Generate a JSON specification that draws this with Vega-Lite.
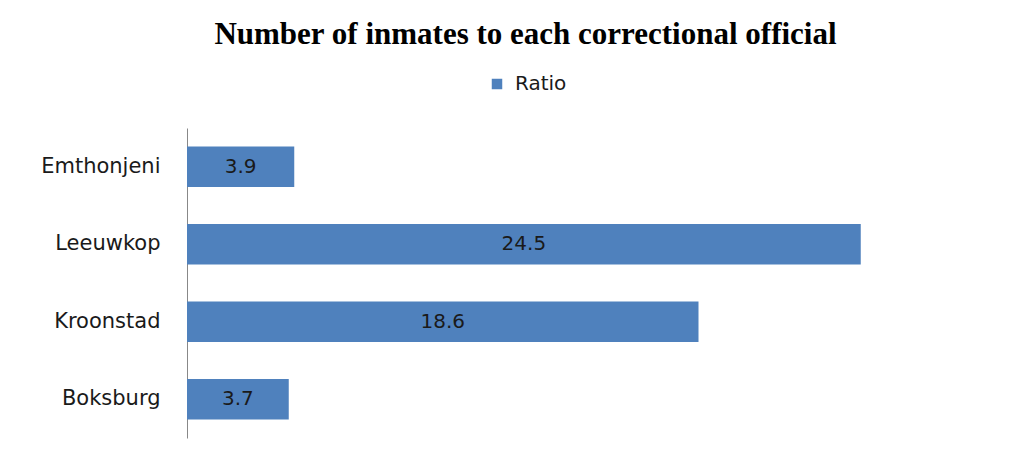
{
  "$schema": "https://vega.github.io/schema/vega-lite/v6.json",
  "width": 825,
  "height": 310,
  "autosize": {"type": "none"},
  "padding": {"left": 187, "top": 128, "right": 19, "bottom": 20},
  "background": "white",
  "config": {"view": {"stroke": null}},
  "title": {
    "text": "Number of inmates to each correctional official",
    "font": "Liberation Serif",
    "fontSize": 31,
    "fontWeight": "bold",
    "color": "#000000",
    "anchor": "middle",
    "dx": -74,
    "offset": 23
  },
  "data": {
    "values": [
      {"prison": "Emthonjeni", "series": "Ratio", "value": 3.9},
      {"prison": "Leeuwkop", "series": "Ratio", "value": 24.5},
      {"prison": "Kroonstad", "series": "Ratio", "value": 18.6},
      {"prison": "Boksburg", "series": "Ratio", "value": 3.7}
    ]
  },
  "encoding": {
    "y": {
      "field": "prison",
      "type": "nominal",
      "sort": null,
      "scale": {"paddingInner": 0.48, "paddingOuter": 0.24},
      "axis": {
        "title": null,
        "ticks": false,
        "grid": false,
        "domainColor": "#888888",
        "domainWidth": 1,
        "labelFont": "DejaVu Sans",
        "labelFontSize": 21,
        "labelColor": "#1a1a1a",
        "labelPadding": 27
      }
    }
  },
  "layer": [
    {
      "mark": {"type": "bar", "color": "#4F81BD"},
      "encoding": {
        "x": {
          "field": "value",
          "type": "quantitative",
          "scale": {"domain": [0, 30], "nice": false},
          "axis": null
        },
        "color": {
          "field": "series",
          "type": "nominal",
          "scale": {"range": ["#4F81BD"]},
          "legend": {
            "title": null,
            "orient": "none",
            "legendX": 300,
            "legendY": -54,
            "symbolType": "square",
            "symbolSize": 110,
            "symbolStrokeWidth": 0,
            "labelFont": "DejaVu Sans",
            "labelFontSize": 20,
            "labelColor": "#1a1a1a",
            "labelOffset": 8
          }
        }
      }
    },
    {
      "transform": [{"calculate": "datum.value / 2", "as": "mid"}],
      "mark": {
        "type": "text",
        "font": "DejaVu Sans",
        "fontSize": 20,
        "color": "#1a1a1a",
        "align": "center",
        "baseline": "middle"
      },
      "encoding": {
        "x": {"field": "mid", "type": "quantitative"},
        "text": {"field": "value", "type": "quantitative", "format": ".1f"}
      }
    }
  ]
}
